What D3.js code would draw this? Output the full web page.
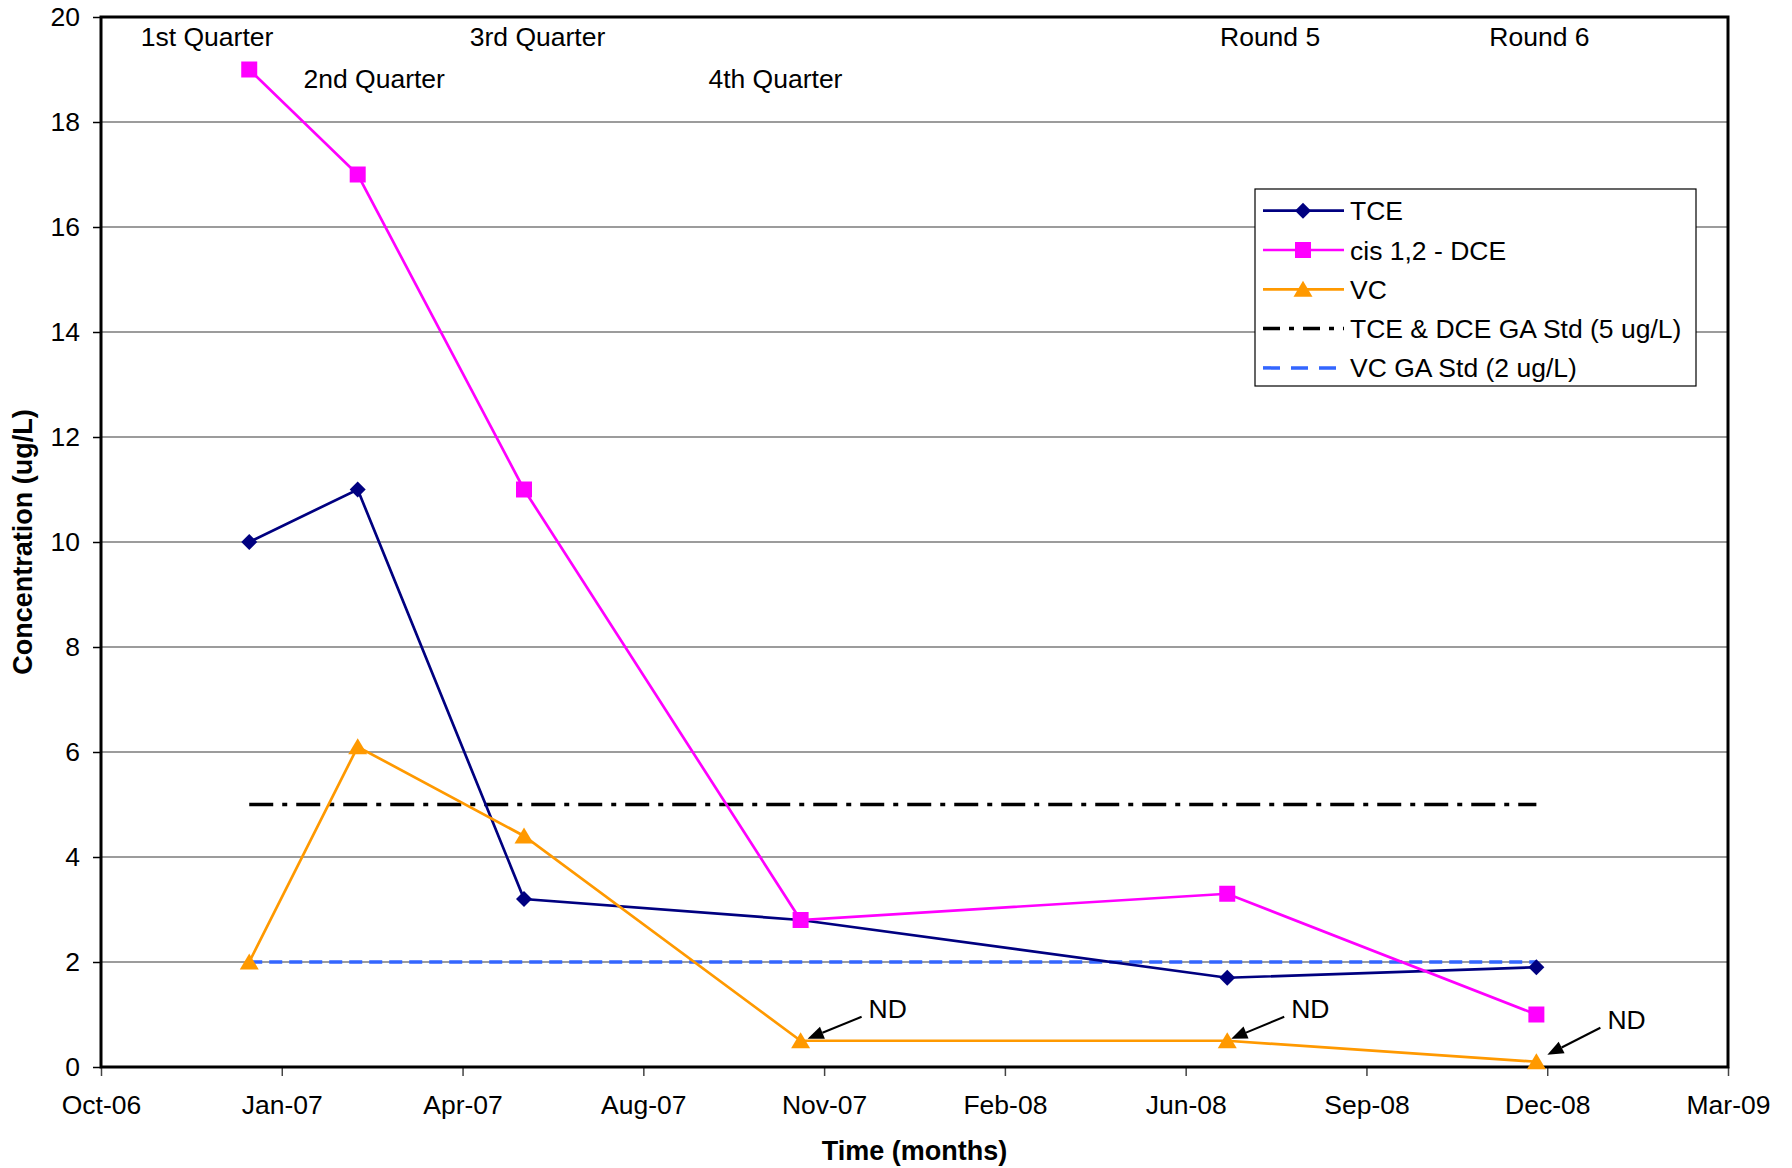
<!DOCTYPE html>
<html>
<head>
<meta charset="utf-8">
<script src="https://d3js.org/d3.v7.min.js"></script>
<style>
  body { margin: 0; background: #fff; }
  svg text { font-family: "Liberation Sans", Arial, sans-serif; fill: #000; }
</style>
</head>
<body>
<div id="vis"></div>
<script>
// sampling rounds
const sampleDates = ['2006-12-31', '2007-03-01', '2007-06-01', '2007-11-01', '2008-06-24', '2008-12-12']
const tce = [10, 11, 3.2, 2.8, 1.7, 1.9]
const dce = [19, 17, 11, 2.8, 3.3, 1.0]
const vc = [2, 6.1, 4.4, 0.5, 0.5, 0.1]
const tceDceStd = 5
const vcStd = 2

// axes
const xTickDates = ['2006-10-10', '2007-01-18', '2007-04-28', '2007-08-06', '2007-11-14',
  '2008-02-22', '2008-06-01', '2008-09-09', '2008-12-18', '2009-03-28']
const xTickLabels = ['Oct-06', 'Jan-07', 'Apr-07', 'Aug-07', 'Nov-07', 'Feb-08', 'Jun-08', 'Sep-08', 'Dec-08', 'Mar-09']
const yTicks = [0, 2, 4, 6, 8, 10, 12, 14, 16, 18, 20]

const legendNames = ['TCE', 'cis 1,2 - DCE', 'VC', 'TCE & DCE GA Std (5 ug/L)', 'VC GA Std (2 ug/L)']

// round labels written above the curves (date / concentration they start at)
const roundLabels = ['1st Quarter', '2nd Quarter', '3rd Quarter', '4th Quarter', 'Round 5', 'Round 6']
const roundLabelDates = ['2006-11-01', '2007-01-30', '2007-05-02', '2007-09-11', '2008-06-20', '2008-11-16']
const roundLabelLevels = [19.44, 18.64, 19.44, 18.64, 19.44, 19.44]

// VC values that were not detected
const ndPoints = [3, 4, 5]

const parse = d3.utcParse('%Y-%m-%d')
const dates = sampleDates.map(parse)

const width = 1792
const height = 1168
const margin = { top: 17, right: 64, bottom: 101, left: 101 }
const fontSize = 26.5

const svg = d3.select('#vis').append('svg')
  .attr('width', width)
  .attr('height', height)

const x = d3.scaleUtc()
  .domain([parse(xTickDates[0]), parse(xTickDates[xTickDates.length - 1])])
  .range([margin.left, width - margin.right])

const y = d3.scaleLinear()
  .domain([0, 20])
  .range([height - margin.bottom, margin.top])

// gridlines
svg.append('g')
  .selectAll('line')
  .data(yTicks.slice(1, -1))
  .join('line')
  .attr('x1', margin.left)
  .attr('x2', width - margin.right)
  .attr('y1', d => y(d))
  .attr('y2', d => y(d))
  .attr('stroke', '#3a3a3a')
  .attr('stroke-width', 1.2)

// axes
const yAxis = svg.append('g')
  .attr('transform', `translate(${margin.left},0)`)
  .call(d3.axisLeft(y).tickValues(yTicks).tickSize(8).tickPadding(13))
yAxis.select('.domain').remove()
yAxis.selectAll('line').attr('stroke', '#000').attr('stroke-width', 1.5)
yAxis.selectAll('text').attr('font-size', fontSize).attr('font-family', null)

const xAxis = svg.append('g')
  .attr('transform', `translate(0,${height - margin.bottom})`)
  .call(d3.axisBottom(x)
    .tickValues(xTickDates.map(parse))
    .tickFormat((d, i) => xTickLabels[i])
    .tickSize(9)
    .tickPadding(19))
xAxis.select('.domain').remove()
xAxis.selectAll('line').attr('stroke', '#444').attr('stroke-width', 1.5)
xAxis.selectAll('text').attr('font-size', fontSize).attr('font-family', null)

// plot frame
svg.append('rect')
  .attr('x', margin.left)
  .attr('y', margin.top)
  .attr('width', width - margin.left - margin.right)
  .attr('height', height - margin.top - margin.bottom)
  .attr('fill', 'none')
  .attr('stroke', '#000')
  .attr('stroke-width', 3)

// axis titles
svg.append('text')
  .attr('x', (margin.left + width - margin.right) / 2)
  .attr('y', 1160)
  .attr('text-anchor', 'middle')
  .attr('font-size', 27)
  .attr('font-weight', 'bold')
  .text('Time (months)')

svg.append('text')
  .attr('transform', `translate(32,${(margin.top + height - margin.bottom) / 2}) rotate(-90)`)
  .attr('text-anchor', 'middle')
  .attr('font-size', 27)
  .attr('font-weight', 'bold')
  .text('Concentration (ug/L)')

// standards
const stdLines = [
  { value: tceDceStd, color: '#000', width: 3.5, dash: '24,9,5,9', legendDash: '17,9,5,9' },
  { value: vcStd, color: '#3366ff', width: 3.5, dash: '13,7', legendDash: '17,11' }
]
svg.append('g')
  .selectAll('line')
  .data(stdLines)
  .join('line')
  .attr('x1', x(dates[0]))
  .attr('x2', x(dates[dates.length - 1]))
  .attr('y1', d => y(d.value))
  .attr('y2', d => y(d.value))
  .attr('stroke', d => d.color)
  .attr('stroke-width', d => d.width)
  .attr('stroke-dasharray', d => d.dash)

function markerPath (type) {
  if (type === 'diamond') return 'M0,-8L8,0L0,8L-8,0Z'
  if (type === 'square') return 'M-8,-8H8V8H-8Z'
  return 'M0,-8.5L9.5,7.5L-9.5,7.5Z'
}

const series = [
  { values: tce, color: '#000080', marker: 'diamond' },
  { values: dce, color: '#ff00ff', marker: 'square' },
  { values: vc, color: '#ff9900', marker: 'triangle' }
]

const line = d3.line()
  .x((d, i) => x(dates[i]))
  .y(d => y(d))

series.forEach(s => {
  const g = svg.append('g')
  g.append('path')
    .attr('d', line(s.values))
    .attr('fill', 'none')
    .attr('stroke', s.color)
    .attr('stroke-width', 2.7)
  g.selectAll('path.mk')
    .data(s.values)
    .join('path')
    .attr('class', 'mk')
    .attr('d', markerPath(s.marker))
    .attr('transform', (d, i) => `translate(${x(dates[i])},${y(d)})`)
    .attr('fill', s.color)
})

// round labels
svg.append('g')
  .selectAll('text')
  .data(roundLabels)
  .join('text')
  .attr('x', (d, i) => x(parse(roundLabelDates[i])))
  .attr('y', (d, i) => y(roundLabelLevels[i]))
  .attr('font-size', fontSize)
  .text(d => d)

// ND arrows: tip and tail offsets from the VC marker
const ndOffsets = [[7, -2, 61, -24], [4, -2, 57, -24], [11, -7, 64, -34]]
const nd = svg.append('g')
ndPoints.forEach((p, k) => {
  const px = x(dates[p])
  const py = y(vc[p])
  const o = ndOffsets[k]
  const tip = [px + o[0], py + o[1]]
  const tail = [px + o[2], py + o[3]]
  const len = Math.hypot(tip[0] - tail[0], tip[1] - tail[1])
  const ux = (tip[0] - tail[0]) / len
  const uy = (tip[1] - tail[1]) / len
  const base = [tip[0] - 16 * ux, tip[1] - 16 * uy]
  nd.append('line')
    .attr('x1', tail[0]).attr('y1', tail[1])
    .attr('x2', base[0]).attr('y2', base[1])
    .attr('stroke', '#000')
    .attr('stroke-width', 2)
  nd.append('path')
    .attr('d', `M${tip[0]},${tip[1]}L${base[0] - 6.5 * uy},${base[1] + 6.5 * ux}L${base[0] + 6.5 * uy},${base[1] - 6.5 * ux}Z`)
    .attr('fill', '#000')
  nd.append('text')
    .attr('x', tail[0] + 7)
    .attr('y', tail[1] + 1)
    .attr('font-size', fontSize)
    .text('ND')
})

// legend
const legend = svg.append('g').attr('transform', 'translate(1255,189)')
legend.append('rect')
  .attr('width', 441)
  .attr('height', 197)
  .attr('fill', '#fff')
  .attr('stroke', '#000')
  .attr('stroke-width', 1.2)

const legendItems = legendNames.map((name, i) => {
  if (i < 3) return { name, color: series[i].color, marker: series[i].marker, dash: null, width: 2.7 }
  const s = stdLines[i - 3]
  return { name, color: s.color, marker: null, dash: s.legendDash, width: s.width }
})

const rows = legend.selectAll('g.row')
  .data(legendItems)
  .join('g')
  .attr('class', 'row')
  .attr('transform', (d, i) => `translate(0,${21.7 + i * 39.3})`)

rows.append('line')
  .attr('x1', 8)
  .attr('x2', 89)
  .attr('stroke', d => d.color)
  .attr('stroke-width', d => d.width)
  .attr('stroke-dasharray', d => d.dash)

rows.filter(d => d.marker)
  .append('path')
  .attr('d', d => markerPath(d.marker))
  .attr('transform', 'translate(48,0)')
  .attr('fill', d => d.color)

rows.append('text')
  .attr('x', 95)
  .attr('dy', '0.36em')
  .attr('font-size', fontSize)
  .text(d => d.name)
</script>
</body>
</html>
